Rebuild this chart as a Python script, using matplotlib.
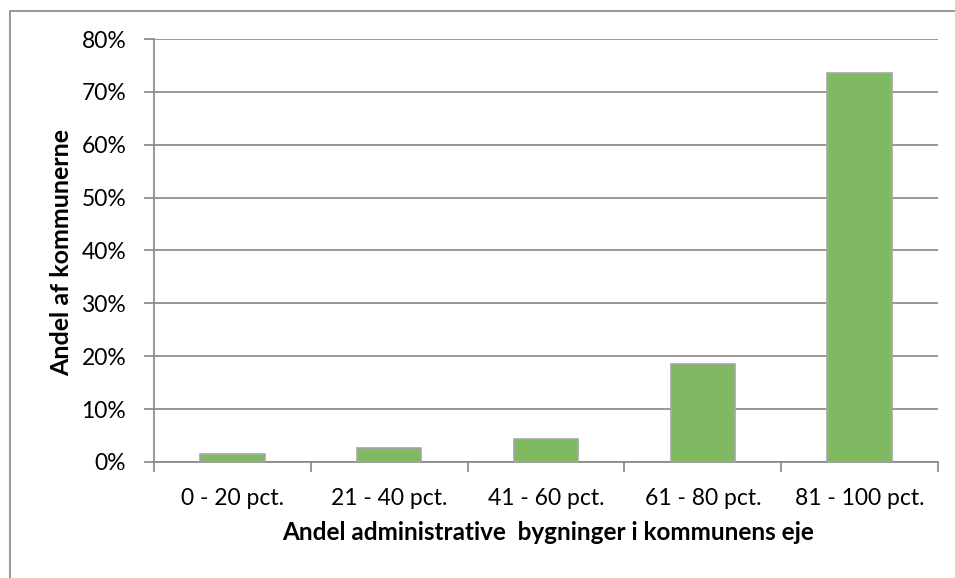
import matplotlib.pyplot as plt
from matplotlib.patches import Rectangle
import numpy as np

plt.rcParams['font.family'] = ['Lato', 'DejaVu Sans']

categories = ['0 - 20 pct.', '21 - 40 pct.', '41 - 60 pct.', '61 - 80 pct.', '81 - 100 pct.']
shares = [1.6, 2.7, 4.3, 18.5, 73.6]
yticks = [0, 10, 20, 30, 40, 50, 60, 70, 80]

grey = '#868686'

fig = plt.figure(figsize=(9.55, 5.78), dpi=100)
ax = fig.add_axes([154 / 955, 1 - 462 / 578, (938 - 154) / 955, (462 - 39) / 578])

x = np.arange(len(categories))
ax.bar(x, shares, width=0.41, color='#7fb962', edgecolor='#a6a6a6', linewidth=1.2, zorder=3)

ax.set_xlim(-0.5, len(categories) - 0.5)
ax.set_ylim(0, 80)
ax.set_yticks(yticks)
ax.set_yticklabels([f'{t}%' for t in yticks], fontsize=16.5)
ax.yaxis.grid(True, color=grey, linewidth=1.2, zorder=0)

ax.set_xticks(x)
ax.set_xticklabels(categories, fontsize=16.5)
ax.set_xticks(np.arange(-0.5, len(categories)), minor=True)
ax.tick_params(axis='x', which='major', length=0, pad=19)
ax.tick_params(axis='x', which='minor', length=7, color=grey, width=1.2)
ax.tick_params(axis='y', length=7, color=grey, width=1.2, pad=13)

for side in ['top', 'right']:
    ax.spines[side].set_visible(False)
for side in ['left', 'bottom']:
    ax.spines[side].set_color(grey)
    ax.spines[side].set_linewidth(1.2)

fig.text(548 / 955, 1 - 533 / 578, 'Andel administrative  bygninger i kommunens eje',
         fontsize=17.5, fontweight='bold', ha='center', va='center')
fig.text(62 / 955, 1 - 252 / 578, 'Andel af kommunerne', rotation=90,
         fontsize=18, fontweight='bold', ha='center', va='center')

fig.patches.append(Rectangle((10 / 955, -0.1), 1.2, 1 - 11 / 578 + 0.1, transform=fig.transFigure,
                             fill=False, edgecolor=grey, linewidth=1.2))

fig.savefig('out.png', dpi=100)
